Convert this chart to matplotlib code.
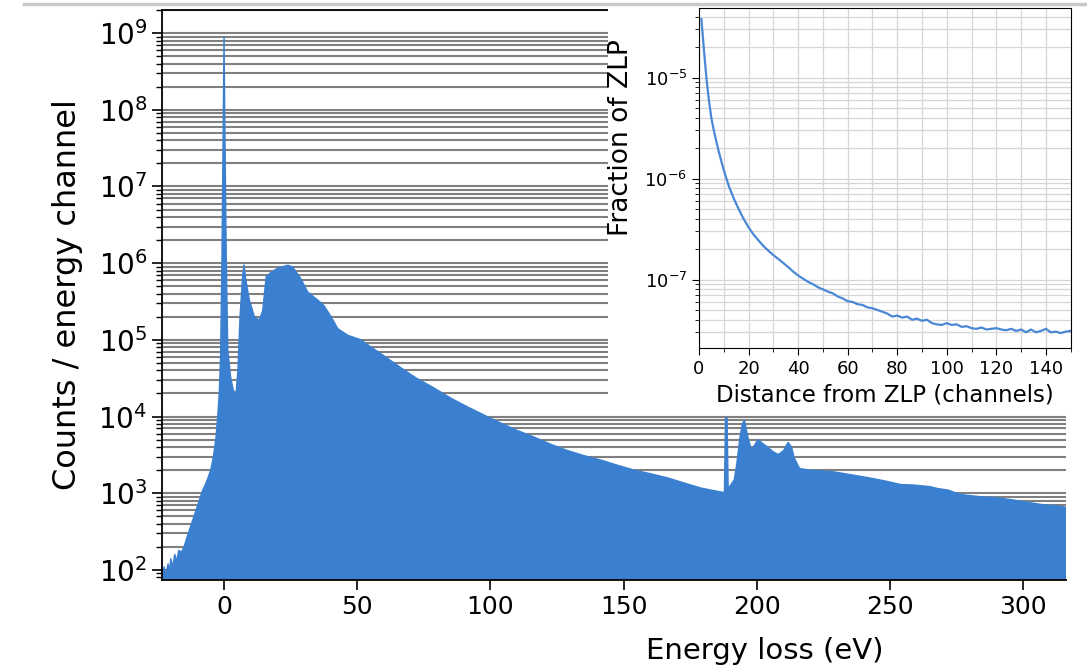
import matplotlib
matplotlib.use("Agg")
import matplotlib.pyplot as plt
import numpy as np
from matplotlib.ticker import LogLocator, NullFormatter, MultipleLocator
from matplotlib.patches import Rectangle
from matplotlib.lines import Line2D

# Main spectrum (energy loss in eV, counts per channel)
energy = [-23.3, -22.5, -22.0, -21.0, -20.5, -20.0, -19.2, -18.5, -17.8, -17.0,
          -16.0, -15.0, -14.0, -13.0, -12.0, -11.0, -10.0, -9.0, -8.0, -7.0,
          -6.0, -5.0, -4.0, -3.0, -2.3, -1.8, -1.3, -0.8, -0.3, 0.0,
          0.3, 0.8, 1.4, 2.5, 3.5, 4.5, 5.2, 6.0, 7.0, 7.5,
          8.2, 9.5, 11.4, 13.2, 14.5, 15.3, 15.8, 17.6, 20.2, 23.9,
          25.8, 28.9, 31.4, 33.0, 35.2, 37.5, 40.2, 42.7, 46.4, 51.4,
          54.0, 60.0, 66.5, 72.0, 78.9, 85.0, 91.5, 98.0, 104.0, 110.0,
          116.4, 123.0, 129.0, 135.0, 141.6, 148.0, 154.0, 160.0, 166.7, 173.0,
          179.0, 184.0, 187.8, 188.2, 188.8, 189.2, 189.6, 191.5, 192.5, 193.5,
          194.5, 195.3, 196.6, 198.0, 199.0, 200.4, 202.0, 204.0, 206.0, 208.0,
          210.0, 211.7, 213.0, 214.0, 216.0, 220.0, 225.0, 229.0, 235.0, 241.7,
          248.0, 254.0, 259.0, 265.0, 268.0, 271.8, 275.0, 278.0, 284.0, 290.5,
          296.0, 299.0, 303.0, 306.0, 309.0, 312.0, 315.5, 318.0]
counts = [80, 110, 85, 120, 95, 140, 110, 160, 130, 180,
          170, 200, 260, 330, 420, 530, 680, 870, 1100, 1300,
          1600, 2000, 3000, 5400, 1.1e4, 2.0e4, 6.0e4, 1.0e6, 6.0e7, 9.0e8,
          6.0e7, 1.5e6, 7.4e4, 3.2e4, 2.2e4, 2.0e4, 4.0e4, 2.0e5, 7.0e5, 9.5e5,
          6.0e5, 3.3e5, 2.0e5, 1.8e5, 2.4e5, 4.5e5, 6.6e5, 7.6e5, 8.6e5, 9.4e5,
          8.9e5, 6.2e5, 4.2e5, 3.8e5, 3.3e5, 2.8e5, 2.0e5, 1.4e5, 1.15e5, 1.0e5,
          8.6e4, 6.2e4, 4.3e4, 3.2e4, 2.35e4, 1.75e4, 1.33e4, 1.03e4, 8.2e3, 6.6e3,
          5.4e3, 4.3e3, 3.6e3, 3.1e3, 2.7e3, 2.3e3, 2.0e3, 1.8e3, 1.58e3, 1.35e3,
          1.17e3, 1.08e3, 1.02e3, 9.6e3, 9.6e3, 1.1e3, 1.2e3, 1.5e3, 2.5e3, 5.0e3,
          8.0e3, 9.0e3, 5.4e3, 3.6e3, 4.2e3, 5.0e3, 4.5e3, 4.0e3, 3.5e3, 3.2e3,
          3.6e3, 4.6e3, 4.0e3, 2.9e3, 2.1e3, 2.0e3, 1.95e3, 1.9e3, 1.75e3, 1.6e3,
          1.45e3, 1.3e3, 1.28e3, 1.22e3, 1.15e3, 1.1e3, 1.0e3, 9.5e2, 9.0e2, 8.7e2,
          8.2e2, 7.9e2, 7.5e2, 7.2e2, 7.0e2, 6.9e2, 6.6e2, 6.4e2]

# Inset: fraction of ZLP vs distance from ZLP (channels)
dist = [1, 2, 3, 4, 5, 6, 7, 8, 9, 10, 11, 12, 14, 16, 18, 20, 22, 24, 26, 28,
        30, 32, 34, 36, 38, 40, 42, 44, 46, 48, 50, 52, 54, 56, 58, 60, 62, 64,
        66, 68, 70, 72, 74, 76, 78, 80, 82, 84, 86, 88, 90, 92, 94, 96, 98, 100,
        102, 104, 106, 108, 110, 112, 114, 116, 118, 120, 122, 124, 126, 128,
        130, 132, 134, 136, 138, 140, 142, 144, 146, 148, 150]
frac = [3.8e-5, 1.9e-5, 1.0e-5, 6.0e-6, 4.0e-6, 3.0e-6, 2.35e-6, 1.85e-6, 1.5e-6,
        1.22e-6, 1.02e-6, 8.5e-7, 6.4e-7, 5.0e-7, 4.0e-7, 3.3e-7, 2.8e-7, 2.45e-7,
        2.15e-7, 1.93e-7, 1.75e-7, 1.6e-7, 1.46e-7, 1.33e-7, 1.2e-7, 1.1e-7,
        1.02e-7, 9.5e-8, 9.0e-8, 8.4e-8, 8.0e-8, 7.6e-8, 7.3e-8, 6.8e-8, 6.5e-8,
        6.1e-8, 6.0e-8, 5.7e-8, 5.6e-8, 5.3e-8, 5.2e-8, 5.0e-8, 4.8e-8, 4.6e-8,
        4.3e-8, 4.4e-8, 4.2e-8, 4.3e-8, 4.0e-8, 4.1e-8, 3.9e-8, 4.0e-8, 3.7e-8,
        3.6e-8, 3.55e-8, 3.7e-8, 3.55e-8, 3.6e-8, 3.4e-8, 3.45e-8, 3.3e-8, 3.25e-8,
        3.35e-8, 3.2e-8, 3.25e-8, 3.3e-8, 3.2e-8, 3.15e-8, 3.25e-8, 3.1e-8, 3.2e-8,
        3.0e-8, 3.2e-8, 3.0e-8, 3.1e-8, 3.25e-8, 3.0e-8, 3.05e-8, 2.95e-8, 3.05e-8,
        3.1e-8]

blue = "#3b80d0"

fig = plt.figure(figsize=(10.87, 6.71), dpi=100)

ax = fig.add_axes([0.149, 0.1356, 0.8317, 0.8495])
ax.fill_between(energy, counts, 1, color=blue, lw=0)
ax.plot(energy, counts, color=blue, lw=1)
ax.set_yscale("log")
ax.set_xlim(-23.3, 316)
ax.set_ylim(74, 2e9)
ax.yaxis.set_major_locator(LogLocator(base=10, numticks=20))
ax.yaxis.set_minor_locator(LogLocator(base=10, subs=np.arange(2, 10), numticks=100))
ax.yaxis.set_minor_formatter(NullFormatter())
ax.set_xticks([0, 50, 100, 150, 200, 250, 300])
ax.set_axisbelow(True)
ax.grid(axis="y", which="both", color="0.5", lw=1.5)
ax.tick_params(axis="y", which="major", labelsize=20, length=7, width=1.2)
ax.tick_params(axis="y", which="minor", length=4, width=1)
ax.tick_params(axis="x", labelsize=18, length=7, width=1.2)
ax.spines["right"].set_visible(False)
for s in ["left", "top", "bottom"]:
    ax.spines[s].set_linewidth(1.3)
ax.set_ylabel("Counts / energy channel", fontsize=23)
ax.yaxis.set_label_coords(-0.087, 0.5)
ax.set_xlabel("Energy loss (eV)", fontsize=21)
ax.xaxis.set_label_coords(0.667, -0.1)

# white box behind the inset
fig.add_artist(Rectangle((0.5593, 0.389), 0.45, 0.62, transform=fig.transFigure,
                         facecolor="white", edgecolor="none", zorder=1))
fig.add_artist(Line2D([0.022, 1.0], [0.994, 0.994], transform=fig.transFigure,
                      color="#c8c8c8", lw=2.5, zorder=3))

ins = fig.add_axes([0.643, 0.4814, 0.342, 0.5067], zorder=2)
ins.plot(dist, frac, color="#4a88d6", lw=1.6)
ins.set_yscale("log")
ins.set_xlim(0, 150)
ins.set_ylim(2.1e-8, 4.9e-5)
ins.xaxis.set_major_locator(MultipleLocator(20))
ins.xaxis.set_minor_locator(MultipleLocator(10))
ins.yaxis.set_minor_locator(LogLocator(base=10, subs=np.arange(2, 10), numticks=100))
ins.yaxis.set_minor_formatter(NullFormatter())
ins.grid(which="both", color="#d6d6d6", lw=0.9)
ins.set_axisbelow(True)
ins.tick_params(labelsize=13, length=5)
ins.tick_params(which="minor", length=3)
ins.set_xlabel("Distance from ZLP (channels)", fontsize=16.5)
ins.set_ylabel("Fraction of ZLP", fontsize=19)
ins.yaxis.set_label_coords(-0.175, 0.62)

fig.savefig("out.png", dpi=100)
